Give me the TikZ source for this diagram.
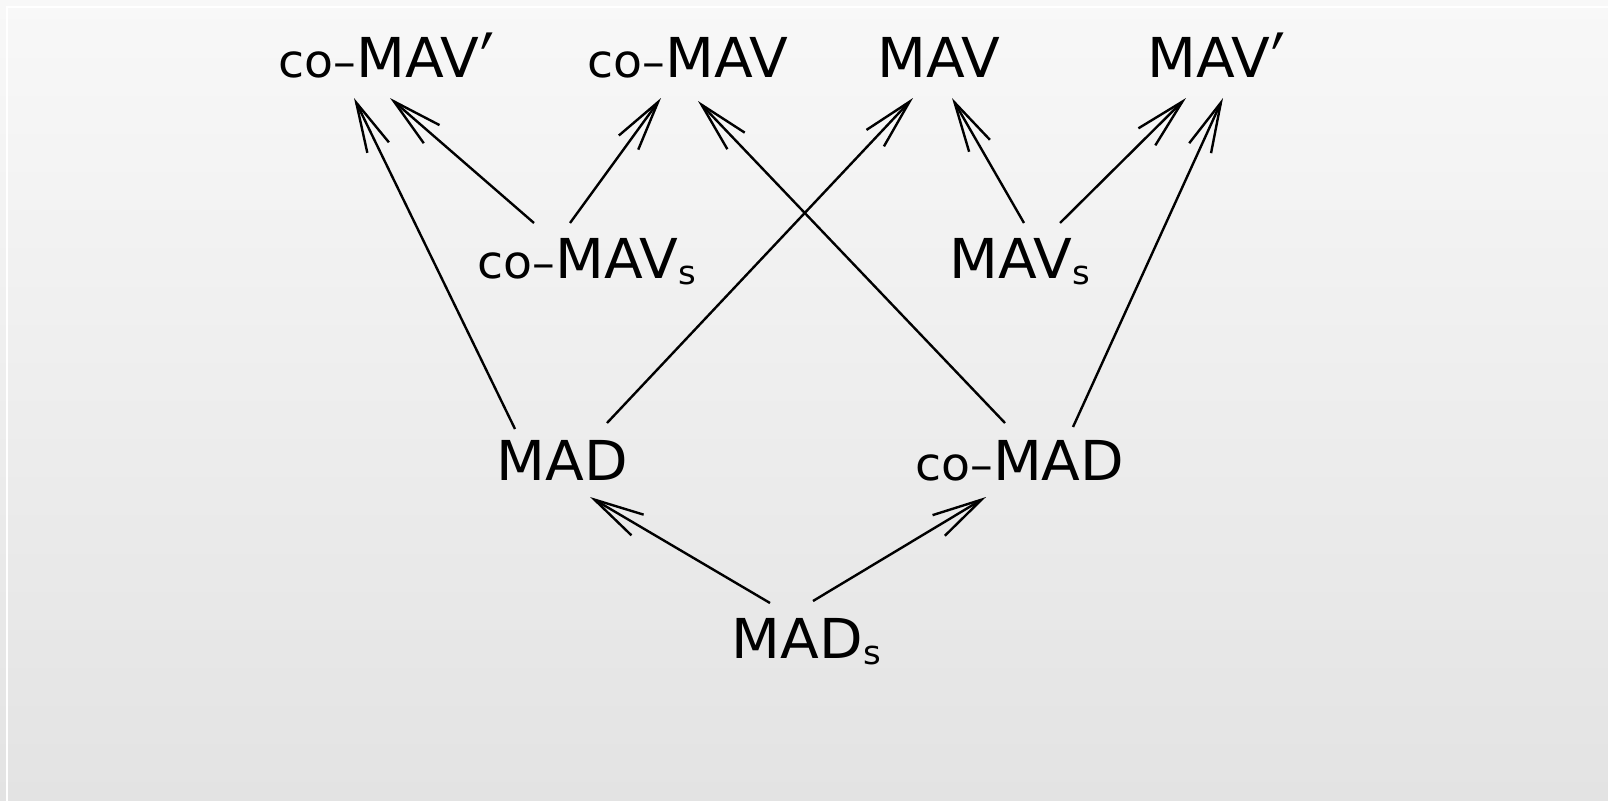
\documentclass[tikz,border=0pt]{standalone}
\usepackage{fontspec}
\setmainfont[FakeStretch=1.03]{DejaVu Sans}
\usetikzlibrary{arrows.meta}
\definecolor{bgtop}{RGB}{248,248,248}
\definecolor{bgbot}{RGB}{227,227,227}
\newcommand{\cosm}{{\fontsize{46bp}{50bp}\selectfont co\fontsize{44bp}{50bp}\selectfont –}}
\newcommand{\subs}{\raisebox{-6bp}{\fontsize{33bp}{35bp}\selectfont s}}
\newcommand{\prm}{\kern1bp\raisebox{-20bp}{\scalebox{1}[1.5]{\fontsize{60bp}{62bp}\selectfont ′}}}
\begin{document}
\begin{tikzpicture}[x=1bp,y=-1bp,
  lbl/.style={anchor=base west, inner sep=0pt, font=\fontsize{55bp}{60bp}\selectfont},
  arr/.style={line width=2.4bp, -{Straight Barb[length=50bp,width=24bp]}}]
\useasboundingbox (0,0) rectangle (1608,801);
\shade[top color=bgtop, bottom color=bgbot] (0,0) rectangle (1608,801);
\draw[white, line width=2bp] (7,801) -- (7,7) -- (1608,7);

\node[lbl] (comavp) at (278.5,78) {\cosm MAV\prm};
\node[lbl] (comav)  at (587.5,78) {\cosm MAV};
\node[lbl] (mav)    at (877.6,78) {MAV};
\node[lbl] (mavp)   at (1147.6,78) {MAV\prm};
\node[lbl] (comavs) at (477.5,278) {\cosm MAV\subs};
\node[lbl] (mavs)   at (949.6,278) {MAV\subs};
\node[lbl] (mad)    at (496.6,480) {MAD};
\node[lbl] (comad)  at (915.2,480) {\cosm MAD};
\node[lbl] (mads)   at (731.6,658) {MAD\subs};

\draw[arr] ([shift={(18.4,-51)}]mad.base west) -- ([shift={(75.5,20)}]comavp.base west);
\draw[arr] ([shift={(56.5,-55)}]comavs.base west) -- ([shift={(111.5,20)}]comavp.base west);
\draw[arr] ([shift={(92.5,-55)}]comavs.base west) -- ([shift={(73.5,20)}]comav.base west);
\draw[arr] ([shift={(89.8,-57)}]comad.base west) -- ([shift={(110.5,23)}]comav.base west);
\draw[arr] ([shift={(110.4,-57)}]mad.base west) -- ([shift={(35.4,20)}]mav.base west);
\draw[arr] ([shift={(74.4,-55)}]mavs.base west) -- ([shift={(74.4,20)}]mav.base west);
\draw[arr] ([shift={(110.4,-55)}]mavs.base west) -- ([shift={(38.4,20)}]mavp.base west);
\draw[arr] ([shift={(157.8,-53)}]comad.base west) -- ([shift={(75.4,20)}]mavp.base west);
\draw[arr] ([shift={(38.4,-55)}]mads.base west) -- ([shift={(93.4,17)}]mad.base west);
\draw[arr] ([shift={(81.4,-57)}]mads.base west) -- ([shift={(70.8,17)}]comad.base west);
\end{tikzpicture}
\end{document}
